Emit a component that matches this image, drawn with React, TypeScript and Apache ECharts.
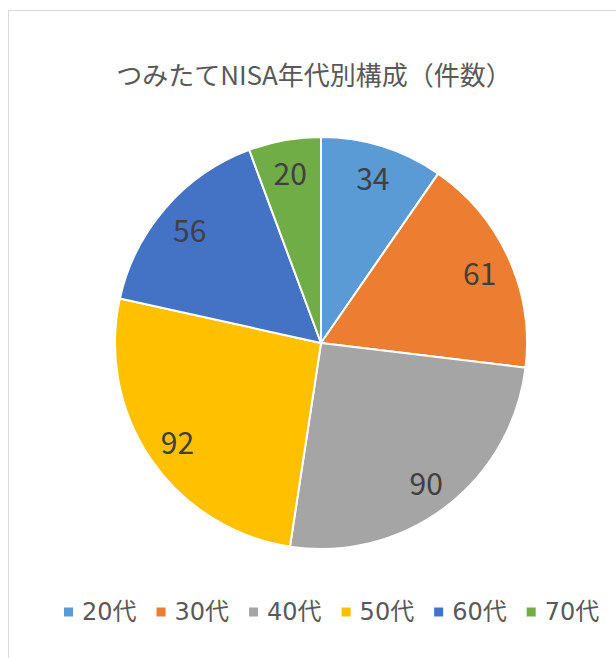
import React, { useEffect, useRef } from "react";
import * as echarts from "echarts";

const categories = ["20代", "30代", "40代", "50代", "60代", "70代"];
const counts = [34, 61, 90, 92, 56, 20];
const colors = ["#5B9BD5", "#ED7D31", "#A5A5A5", "#FFC000", "#4472C4", "#70AD47"];
const titleText = "つみたてNISA年代別構成（件数）";

const FONT = "'Noto Sans CJK JP', 'Noto Sans', sans-serif";
const LEGEND_FONT = "'DejaVu Sans', 'Noto Sans CJK JP', sans-serif";

export default function App() {
  const ref = useRef<HTMLDivElement>(null);
  useEffect(() => {
    document.body.style.margin = "0";
    const chart = echarts.init(ref.current!, undefined, { renderer: "svg" });
    const data = categories.map((c, i) => ({ name: c, value: counts[i], itemStyle: { color: colors[i] } }));
    chart.setOption({
      animation: false,
      backgroundColor: "#ffffff",
      graphic: [
        {
          type: "rect",
          shape: { x: 8.5, y: 10.5, width: 700, height: 700 },
          style: { fill: "none", stroke: "#d9d9d9", lineWidth: 1 },
          silent: true,
          z: -10,
        },
      ],
      title: {
        text: titleText,
        left: 309,
        textAlign: "center",
        top: 55,
        textStyle: { fontFamily: FONT, fontSize: 26, fontWeight: "normal", color: "#595959" },
      },
      legend: {
        top: 600,
        left: 62,
        width: 554,
        padding: 0,
        itemWidth: 11,
        itemHeight: 11,
        itemGap: 18,
        icon: "rect",
        textStyle: { fontFamily: LEGEND_FONT, fontSize: 24, color: "#595959", padding: [0, 0, 0, 3] },
        data: categories.map((c, i) => ({ name: c, itemStyle: { color: colors[i] } })),
      },
      series: [
        {
          type: "pie",
          center: [321, 343],
          radius: 206,
          startAngle: 90,
          clockwise: true,
          label: { show: false },
          labelLine: { show: false },
          itemStyle: { borderColor: "#ffffff", borderWidth: 2 },
          emphasis: { disabled: true },
          data,
        },
        {
          type: "pie",
          center: [321, 343],
          radius: [136, 206],
          startAngle: 90,
          clockwise: true,
          silent: true,
          itemStyle: { color: "rgba(0,0,0,0)" },
          label: {
            show: true,
            position: "inside",
            formatter: "{c}",
            fontFamily: FONT,
            fontSize: 30,
            color: "#404040",
          },
          labelLine: { show: false },
          emphasis: { disabled: true },
          data: categories.map((c, i) => ({ name: c, value: counts[i] })),
        },
      ],
    });
    return () => chart.dispose();
  }, []);
  return <div ref={ref} style={{ width: 616, height: 658 }} />;
}
